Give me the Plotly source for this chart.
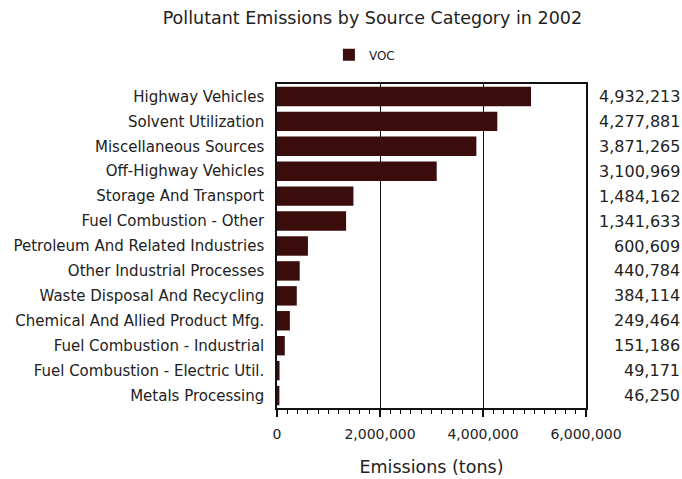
import plotly.graph_objects as go

categories = [
    "Highway Vehicles",
    "Solvent Utilization",
    "Miscellaneous Sources",
    "Off-Highway Vehicles",
    "Storage And Transport",
    "Fuel Combustion - Other",
    "Petroleum And Related Industries",
    "Other Industrial Processes",
    "Waste Disposal And Recycling",
    "Chemical And Allied Product Mfg.",
    "Fuel Combustion - Industrial",
    "Fuel Combustion - Electric Util.",
    "Metals Processing",
]
voc = [4932213, 4277881, 3871265, 3100969, 1484162, 1341633, 600609,
       440784, 384114, 249464, 151186, 49171, 46250]
series_name = "VOC"
x_ticks = [0, 2000000, 4000000, 6000000]
x_tick_labels = ["0", "2,000,000", "4,000,000", "6,000,000"]

bar_color = "#3b0c0c"
font_family = "DejaVu Sans, sans-serif"

fig = go.Figure()
fig.add_trace(go.Bar(
    y=categories, x=voc, orientation="h", name=series_name,
    marker=dict(color=bar_color, line=dict(width=0)),
    showlegend=True,
))

annotations = []
for c, v in zip(categories, voc):
    annotations.append(dict(
        x=1.31, xref="paper", y=c, yref="y",
        text=f"{v:,}", showarrow=False, xanchor="right",
        font=dict(size=16, color="#222", family=font_family),
    ))

fig.update_layout(
    width=682, height=479,
    margin=dict(l=277, r=96, t=84, b=71),
    paper_bgcolor="white", plot_bgcolor="white",
    font=dict(family=font_family, size=14, color="#222"),
    title=dict(text="Pollutant Emissions by Source Category in 2002",
               x=0.546, xanchor="center", y=0.962, yanchor="middle",
               font=dict(size=17.5, color="#222")),
    legend=dict(orientation="h", x=0.168, xanchor="left", y=1.09, yanchor="middle",
                font=dict(size=12), itemsizing="constant", bgcolor="rgba(0,0,0,0)"),
    bargap=0.22,
    annotations=annotations,
)
fig.update_xaxes(
    range=[0, 6000000], tickvals=x_ticks, ticktext=x_tick_labels,
    showgrid=True, gridcolor="#111", gridwidth=1.2,
    showline=True, linecolor="#111", linewidth=1.5, mirror=True,
    ticks="outside", ticklen=7, tickcolor="#111", tickwidth=1.5,
    minor=dict(dtick=200000, ticks="outside", ticklen=4, tickcolor="#111", tickwidth=1, showgrid=False),
    zeroline=False, ticklabelstandoff=5, automargin=False,
    title=dict(text="Emissions (tons)", font=dict(size=17.5), standoff=20),
    tickfont=dict(size=14),
)
fig.update_yaxes(
    autorange="reversed", showgrid=False, automargin=False,
    showline=True, linecolor="#111", linewidth=1.5, mirror=True,
    ticks="", ticklabelstandoff=8, tickfont=dict(size=15),
)

fig.write_html("out.html", post_script="document.body.style.margin='0';",
               config={"displayModeBar": False})
